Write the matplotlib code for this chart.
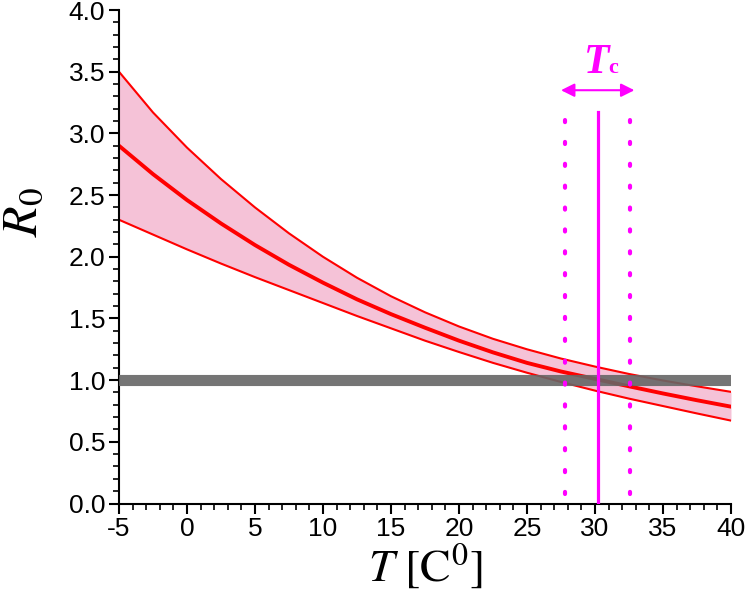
import matplotlib
matplotlib.use('Agg')
import matplotlib.pyplot as plt
from matplotlib.ticker import MultipleLocator, FormatStrFormatter

plt.rcParams['font.family'] = ['Liberation Sans', 'DejaVu Sans']
plt.rcParams['mathtext.fontset'] = 'stix'
plt.rcParams['axes.unicode_minus'] = False

# temperature grid and R0 values
temp = [-5, -2.5, 0, 2.5, 5, 7.5, 10, 12.5, 15, 17.5, 20, 22.5, 25, 27.5, 30, 32.5, 35, 37.5, 40]
r0_mid = [2.90, 2.67, 2.46, 2.27, 2.095, 1.935, 1.79, 1.655, 1.535, 1.425, 1.32, 1.225, 1.14, 1.07, 1.01,
          0.95, 0.892, 0.837, 0.785]
r0_upper = [3.50, 3.17, 2.885, 2.63, 2.40, 2.19, 2.00, 1.83, 1.68, 1.55, 1.435, 1.335, 1.25, 1.175, 1.11,
            1.05, 0.997, 0.95, 0.905]
r0_lower = [2.30, 2.18, 2.06, 1.945, 1.835, 1.73, 1.625, 1.52, 1.42, 1.32, 1.228, 1.14, 1.06, 0.985, 0.915,
            0.85, 0.79, 0.73, 0.672]

threshold = 1.0
t_crit = 30.2
t_crit_lo = 27.8
t_crit_hi = 32.6
vline_top = 3.17
arrow_y = 3.35

magenta = '#ff00ff'

fig = plt.figure(figsize=(7.45, 5.97), dpi=100)
ax = fig.add_axes([0.1597, 0.1566, 0.8215, 0.8266])

ax.fill_between(temp, r0_lower, r0_upper, color='#f5c2d7', lw=0, zorder=1)
ax.plot(temp, r0_upper, color='red', lw=1.5, zorder=2)
ax.plot(temp, r0_lower, color='red', lw=1.5, zorder=2)
ax.plot(temp, r0_mid, color='red', lw=2.8, zorder=2)

ax.axhline(threshold, color='#666666', lw=8, alpha=0.9, zorder=3)

ax.plot([t_crit, t_crit], [0, vline_top], color=magenta, lw=2.3, zorder=4)
for tx in (t_crit_lo, t_crit_hi):
    ax.plot([tx, tx], [0.08, vline_top - 0.02], color=magenta, lw=3, zorder=4,
            linestyle=(0, (0.5, 4.75)), dash_capstyle='round')

ax.annotate('', xy=(t_crit_lo - 0.3, arrow_y), xytext=(t_crit_hi + 0.3, arrow_y),
            arrowprops=dict(arrowstyle='<|-|>', color=magenta, lw=1.5, mutation_scale=20,
                            shrinkA=0, shrinkB=0), zorder=5)
ax.text(t_crit - 0.1, 3.49, 'T', color=magenta, fontsize=30, fontweight='bold', fontstyle='italic',
        family='Liberation Serif', ha='center', va='baseline')
ax.text(t_crit + 0.75, 3.49, 'c', color=magenta, fontsize=16, fontweight='bold',
        family='Liberation Serif', ha='left', va='baseline')

ax.set_xlim(-5, 40)
ax.set_ylim(0, 4)
ax.xaxis.set_major_locator(MultipleLocator(5))
ax.xaxis.set_minor_locator(MultipleLocator(1))
ax.yaxis.set_major_locator(MultipleLocator(0.5))
ax.yaxis.set_minor_locator(MultipleLocator(0.1))
ax.yaxis.set_major_formatter(FormatStrFormatter('%.1f'))

for side in ('top', 'right'):
    ax.spines[side].set_visible(False)
for side in ('left', 'bottom'):
    ax.spines[side].set_linewidth(1.5)
ax.tick_params(which='major', direction='out', length=7, width=1.5, labelsize=19, pad=3)
ax.tick_params(which='minor', direction='out', length=4, width=1.2)

ax.set_xlabel(r'$T\ [\mathrm{C}^0]$', fontsize=33, labelpad=0)
ax.set_ylabel(r'$R_0$', fontsize=36)
ax.yaxis.set_label_coords(-0.118, 0.59)

fig.savefig('out.png', dpi=100)
